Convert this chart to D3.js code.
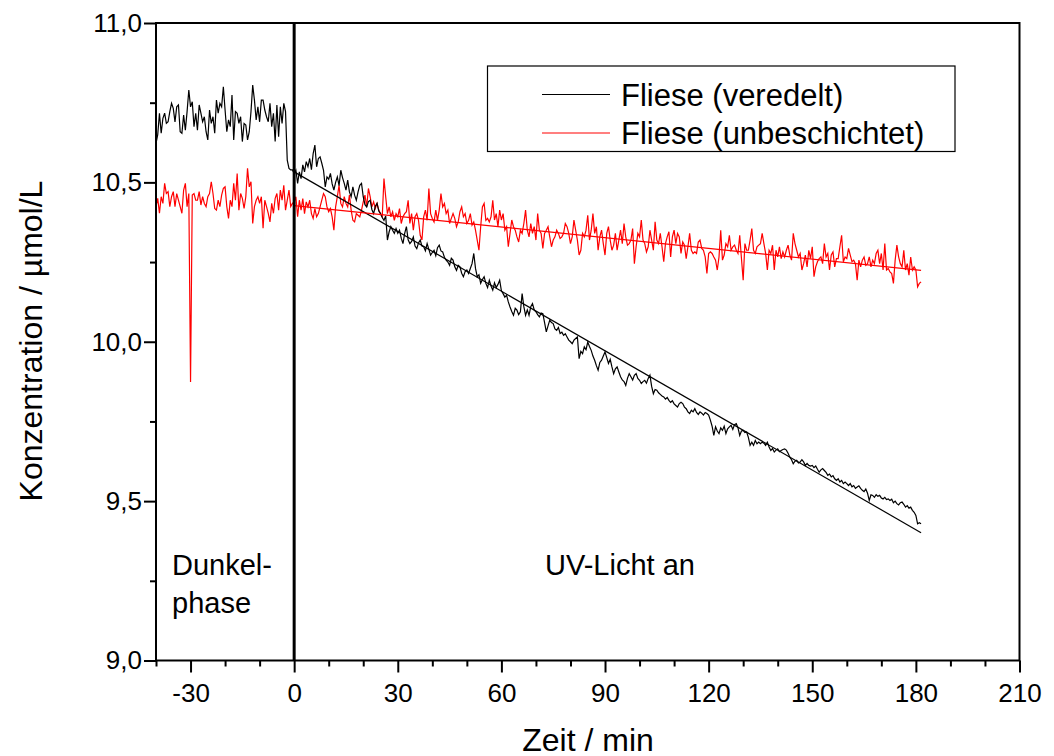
<!DOCTYPE html>
<html>
<head>
<meta charset="utf-8">
<script src="https://cdn.jsdelivr.net/npm/d3@7"></script>
<style>
  body { margin: 0; background: #fff; }
  svg text { font-family: "Liberation Sans", Arial, sans-serif; fill: #000; }
</style>
</head>
<body>
<svg id="chart" width="1054" height="756"></svg>
<script>
//sampling of the measurement (minutes)
var startTime = -40;
var sampleStep = 0.5;

//Fliese (veredelt) - dark phase, -40 ... -0.5 min
var blackDark = [
  10.622, 10.650, 10.717, 10.654, 10.701, 10.717, 10.685, 10.690, 10.722, 10.748,
  10.732, 10.690, 10.737, 10.743, 10.659, 10.654, 10.711, 10.664, 10.722, 10.790,
  10.737, 10.753, 10.675, 10.717, 10.664, 10.743, 10.717, 10.690, 10.706, 10.659,
  10.633, 10.727, 10.685, 10.706, 10.654, 10.758, 10.717, 10.748, 10.737, 10.800,
  10.727, 10.659, 10.696, 10.675, 10.774, 10.633, 10.722, 10.717, 10.685, 10.706,
  10.628, 10.685, 10.680, 10.633, 10.659, 10.722, 10.805, 10.758, 10.696, 10.737,
  10.690, 10.758, 10.758, 10.727, 10.706, 10.690, 10.748, 10.675, 10.717, 10.628,
  10.743, 10.643, 10.737, 10.685, 10.748, 10.722, 10.570, 10.544, 10.539, 10.539
];

//Fliese (veredelt) - UV light, 0 ... 181.5 min
var blackUV = [
  10.528, 10.538, 10.497, 10.533, 10.512, 10.555, 10.533, 10.565, 10.549, 10.575, 10.540, 10.590, 10.617, 10.549, 10.575, 10.580, 10.560, 10.538, 10.486, 10.517,
  10.510, 10.528, 10.495, 10.476, 10.500, 10.517, 10.490, 10.538, 10.515, 10.497, 10.476, 10.507, 10.470, 10.455, 10.486, 10.460, 10.444, 10.470, 10.491, 10.497,
  10.455, 10.430, 10.423, 10.440, 10.444, 10.415, 10.402, 10.425, 10.434, 10.410, 10.402, 10.390, 10.381, 10.395, 10.319, 10.345, 10.361, 10.350, 10.340, 10.355,
  10.340, 10.350, 10.325, 10.308, 10.340, 10.361, 10.320, 10.308, 10.315, 10.329, 10.300, 10.292, 10.310, 10.319, 10.300, 10.298, 10.285, 10.308, 10.290, 10.272,
  10.280, 10.287, 10.270, 10.295, 10.303, 10.285, 10.282, 10.265, 10.256, 10.250, 10.240, 10.262, 10.256, 10.235, 10.224, 10.240, 10.235, 10.215, 10.204, 10.220,
  10.225, 10.214, 10.230, 10.245, 10.277, 10.230, 10.204, 10.210, 10.183, 10.195, 10.204, 10.183, 10.170, 10.193, 10.175, 10.162, 10.185, 10.170, 10.180, 10.193,
  10.160, 10.151, 10.140, 10.146, 10.125, 10.109, 10.095, 10.083, 10.105, 10.099, 10.085, 10.094, 10.151, 10.110, 10.083, 10.100, 10.083, 10.110, 10.120, 10.100,
  10.094, 10.085, 10.078, 10.090, 10.088, 10.060, 10.031, 10.050, 10.068, 10.060, 10.057, 10.040, 10.036, 10.045, 10.026, 10.030, 10.020, 10.025, 10.015, 10.005,
  10.000, 9.994, 10.005, 10.010, 10.015, 9.947, 9.970, 9.963, 9.984, 9.975, 9.999, 9.985, 9.973, 9.955, 9.942, 9.925, 9.911, 9.935, 9.942, 9.955,
  9.968, 9.950, 9.932, 9.945, 9.921, 9.900, 9.915, 9.921, 9.905, 9.890, 9.880, 9.875, 9.863, 9.885, 9.900, 9.890, 9.880, 9.895, 9.900, 9.885,
  9.879, 9.869, 9.875, 9.879, 9.870, 9.885, 9.895, 9.860, 9.837, 9.850, 9.848, 9.840, 9.835, 9.830, 9.827, 9.820, 9.825, 9.816, 9.810, 9.815,
  9.805, 9.800, 9.795, 9.806, 9.810, 9.806, 9.795, 9.790, 9.780, 9.775, 9.785, 9.780, 9.790, 9.778, 9.772, 9.780, 9.776, 9.770, 9.778, 9.775,
  9.770, 9.754, 9.735, 9.706, 9.733, 9.720, 9.712, 9.730, 9.722, 9.735, 9.712, 9.727, 9.733, 9.738, 9.725, 9.740, 9.743, 9.730, 9.706, 9.720,
  9.722, 9.715, 9.717, 9.700, 9.675, 9.685, 9.675, 9.690, 9.680, 9.685, 9.680, 9.685, 9.682, 9.675, 9.685, 9.670, 9.659, 9.665, 9.654, 9.660,
  9.664, 9.655, 9.659, 9.662, 9.664, 9.660, 9.650, 9.638, 9.630, 9.617, 9.625, 9.628, 9.620, 9.623, 9.630, 9.623, 9.612, 9.618, 9.612, 9.610,
  9.612, 9.605, 9.610, 9.600, 9.591, 9.598, 9.602, 9.596, 9.590, 9.581, 9.585, 9.576, 9.580, 9.570, 9.565, 9.570, 9.560, 9.565, 9.555, 9.560,
  9.555, 9.549, 9.555, 9.545, 9.549, 9.540, 9.544, 9.548, 9.540, 9.534, 9.530, 9.538, 9.525, 9.502, 9.520, 9.518, 9.512, 9.520, 9.515, 9.518,
  9.510, 9.507, 9.512, 9.505, 9.507, 9.502, 9.506, 9.495, 9.500, 9.492, 9.488, 9.495, 9.497, 9.490, 9.481, 9.486, 9.478, 9.481, 9.471, 9.465,
  9.455, 9.429, 9.432, 9.429
];

//Fliese (unbeschichtet) - dark phase, -40 ... -0.5 min (one outlier at -30 min)
var redDark = [
  10.424, 10.450, 10.403, 10.455, 10.434, 10.497, 10.465, 10.471, 10.424, 10.455,
  10.471, 10.424, 10.465, 10.444, 10.424, 10.403, 10.476, 10.497, 10.424, 10.465,
  9.874,
  10.460, 10.465, 10.444, 10.444, 10.471, 10.429, 10.455, 10.434, 10.424, 10.455,
  10.465, 10.502, 10.465, 10.418, 10.413, 10.444, 10.424, 10.460, 10.481, 10.486,
  10.424, 10.387, 10.444, 10.424, 10.497, 10.444, 10.528, 10.413, 10.465, 10.450,
  10.418, 10.455, 10.544, 10.486, 10.502, 10.371, 10.424, 10.444, 10.455, 10.434,
  10.455, 10.356, 10.444, 10.424, 10.403, 10.376, 10.434, 10.403, 10.450, 10.465,
  10.413, 10.476, 10.444, 10.491, 10.413, 10.444, 10.476, 10.424, 10.434
];

//Fliese (unbeschichtet) - UV light, 0 ... 181.5 min
var redUV = [
  10.439, 10.455, 10.392, 10.444, 10.413, 10.449, 10.402, 10.439, 10.423, 10.444,
  10.402, 10.387, 10.418, 10.392, 10.402, 10.423, 10.444, 10.465, 10.455, 10.423,
  10.408, 10.418, 10.392, 10.350, 10.423, 10.455, 10.491, 10.434, 10.423, 10.455,
  10.434, 10.423, 10.460, 10.413, 10.381, 10.376, 10.402, 10.397, 10.392, 10.413,
  10.439, 10.460, 10.423, 10.481, 10.455, 10.423, 10.439, 10.418, 10.434, 10.413,
  10.402, 10.392, 10.512, 10.455, 10.402, 10.423, 10.392, 10.408, 10.381, 10.402,
  10.392, 10.418, 10.371, 10.392, 10.402, 10.408, 10.444, 10.371, 10.402, 10.350,
  10.392, 10.402, 10.381, 10.334, 10.319, 10.392, 10.413, 10.381, 10.481, 10.402,
  10.387, 10.376, 10.413, 10.381, 10.413, 10.465, 10.423, 10.434, 10.402, 10.413,
  10.371, 10.387, 10.402, 10.387, 10.361, 10.376, 10.408, 10.423, 10.392, 10.402,
  10.371, 10.381, 10.402, 10.366, 10.376, 10.350, 10.319, 10.287, 10.361, 10.423,
  10.434, 10.381, 10.387, 10.376, 10.392,
  10.444, 10.382, 10.402, 10.361, 10.413, 10.382, 10.402, 10.350, 10.361, 10.298,
  10.340, 10.382, 10.361, 10.350, 10.329, 10.313, 10.350, 10.340, 10.371, 10.413,
  10.350, 10.329, 10.371, 10.340, 10.361, 10.319, 10.402, 10.350, 10.340, 10.293,
  10.340, 10.350, 10.361, 10.329, 10.298, 10.319, 10.329, 10.350, 10.340, 10.324,
  10.329, 10.340, 10.371, 10.361, 10.340, 10.308, 10.329, 10.382, 10.350, 10.319,
  10.272, 10.287, 10.340, 10.329, 10.350, 10.397, 10.319, 10.350, 10.402, 10.340,
  10.361, 10.287, 10.329, 10.350, 10.308, 10.272, 10.340, 10.361, 10.319, 10.287,
  10.303, 10.340, 10.287, 10.319, 10.350, 10.308, 10.371, 10.329, 10.303, 10.308,
  10.319, 10.355, 10.245, 10.298, 10.340, 10.329, 10.382, 10.319, 10.308, 10.282,
  10.298, 10.350, 10.319, 10.287, 10.376, 10.319, 10.308, 10.340, 10.298, 10.251,
  10.308, 10.329, 10.345, 10.266, 10.329, 10.350, 10.308, 10.340, 10.329,
  10.277, 10.313, 10.303, 10.261, 10.298, 10.340, 10.287, 10.277, 10.282, 10.277,
  10.313, 10.319, 10.293, 10.287, 10.266, 10.214, 10.277, 10.282, 10.277, 10.266,
  10.256, 10.225, 10.266, 10.350, 10.256, 10.272, 10.308, 10.298, 10.334, 10.287,
  10.298, 10.303, 10.287, 10.277, 10.334, 10.261, 10.193, 10.308, 10.287, 10.287,
  10.319, 10.355, 10.287, 10.277, 10.298, 10.303, 10.308, 10.340, 10.308, 10.277,
  10.225, 10.287, 10.277, 10.303, 10.225, 10.287, 10.266, 10.298, 10.261, 10.282,
  10.266, 10.287, 10.303, 10.272, 10.256, 10.340, 10.308, 10.287, 10.266, 10.277,
  10.225, 10.245, 10.272, 10.235, 10.287, 10.261, 10.298, 10.204, 10.235, 10.251,
  10.261, 10.266, 10.245, 10.308, 10.266, 10.277, 10.225, 10.272, 10.282, 10.235,
  10.261, 10.261, 10.298, 10.334, 10.251, 10.266, 10.261, 10.293, 10.272, 10.251,
  10.256, 10.245, 10.193, 10.256, 10.235, 10.256, 10.266, 10.240, 10.245, 10.266,
  10.235, 10.256, 10.245, 10.277, 10.287,
  10.245, 10.277, 10.225, 10.308, 10.225, 10.230, 10.219, 10.214, 10.183, 10.256,
  10.303, 10.266, 10.245, 10.235, 10.287, 10.225, 10.245, 10.209, 10.266, 10.225,
  10.235, 10.225, 10.172, 10.183, 10.188
];

//linear fits during UV phase
var fitTimes = [0, 181.5];
var blackFit = [10.533, 9.401];
var redFit = [10.427, 10.224];

//axes
var xMajorTicks = [-30, 0, 30, 60, 90, 120, 150, 180, 210];
var xMinorTicks = [-40, -20, -10, 10, 20, 40, 50, 70, 80, 100, 110, 130, 140, 160, 170, 190, 200];
var yMajorTicks = [9.0, 9.5, 10.0, 10.5, 11.0];
var yMinorTicks = [9.25, 9.75, 10.25, 10.75];

var seriesNames = ["Fliese (veredelt)", "Fliese (unbeschichtet)"];
var seriesColors = ["#000000", "#ff0000"];

/*----------------------
SCALES
----------------------*/
var svg = d3.select("#chart");
var plotLeft = 156, plotRight = 1019.5, plotTop = 23, plotBottom = 660.5;

var x = d3.scaleLinear().domain([-40, 210]).range([plotLeft, plotRight]);
var y = d3.scaleLinear().domain([9, 11]).range([plotBottom, plotTop]);

function toPoints(values, t0) {
  return values.map(function(v, i) { return [t0 + i * sampleStep, v]; });
}

var blackData = toPoints(blackDark.concat(blackUV), startTime);
var redData = toPoints(redDark.concat(redUV), startTime);

var line = d3.line()
  .x(function(d) { return x(d[0]); })
  .y(function(d) { return y(d[1]); });

svg.append("clipPath").attr("id", "plotclip")
  .append("rect")
    .attr("x", plotLeft).attr("y", plotTop)
    .attr("width", plotRight - plotLeft).attr("height", plotBottom - plotTop);

var plot = svg.append("g").attr("clip-path", "url(#plotclip)");

// measured curves
plot.append("path")
  .datum(redData)
  .attr("d", line)
  .attr("fill", "none")
  .attr("stroke", seriesColors[1])
  .attr("stroke-width", 1.2);

plot.append("path")
  .datum(blackData)
  .attr("d", line)
  .attr("fill", "none")
  .attr("stroke", seriesColors[0])
  .attr("stroke-width", 1.2);

// fit lines
[blackFit, redFit].forEach(function(fit, k) {
  plot.append("path")
    .datum(fitTimes.map(function(t, i) { return [t, fit[i]]; }))
    .attr("d", line)
    .attr("fill", "none")
    .attr("stroke", seriesColors[k])
    .attr("stroke-width", 1.2);
});

// start of UV irradiation
svg.append("line")
  .attr("x1", x(0)).attr("x2", x(0))
  .attr("y1", y(11)).attr("y2", y(9))
  .attr("stroke", "#000")
  .attr("stroke-width", 3);

/*----------------------
AXES
----------------------*/
var fmtY = function(d) { return d.toFixed(1).replace(".", ","); };

svg.append("g")
  .attr("transform", "translate(0," + plotBottom + ")")
  .call(d3.axisBottom(x).tickValues(xMajorTicks).tickSize(12).tickSizeOuter(0)
    .tickPadding(11).tickFormat(function(d) { return String(d); }));
svg.append("g")
  .attr("transform", "translate(0," + plotBottom + ")")
  .call(d3.axisBottom(x).tickValues(xMinorTicks).tickSize(6).tickSizeOuter(0).tickFormat(""));

svg.append("g")
  .attr("transform", "translate(" + plotLeft + ",0)")
  .call(d3.axisLeft(y).tickValues(yMajorTicks).tickSize(12).tickSizeOuter(0)
    .tickPadding(2).tickFormat(fmtY));
svg.append("g")
  .attr("transform", "translate(" + plotLeft + ",0)")
  .call(d3.axisLeft(y).tickValues(yMinorTicks).tickSize(6).tickSizeOuter(0).tickFormat(""));

svg.selectAll(".domain").remove();
svg.selectAll(".tick line").attr("stroke", "#000").attr("stroke-width", 2);
svg.selectAll(".tick text")
  .attr("font-family", "Liberation Sans, Arial, sans-serif")
  .attr("font-size", 26)
  .attr("fill", "#000");

// frame
svg.append("rect")
  .attr("x", plotLeft).attr("y", plotTop)
  .attr("width", plotRight - plotLeft).attr("height", plotBottom - plotTop)
  .attr("fill", "none")
  .attr("stroke", "#000")
  .attr("stroke-width", 2);

// axis titles
svg.append("text")
  .attr("x", 588).attr("y", 751)
  .attr("text-anchor", "middle")
  .attr("font-size", 32)
  .text("Zeit / min");

svg.append("text")
  .attr("transform", "translate(42,341) rotate(-90)")
  .attr("text-anchor", "middle")
  .attr("font-size", 32)
  .text("Konzentration / µmol/L");

// phase annotations
svg.append("text").attr("x", 172).attr("y", 575).attr("font-size", 29).text("Dunkel-");
svg.append("text").attr("x", 172).attr("y", 613).attr("font-size", 29).text("phase");
svg.append("text").attr("x", 545).attr("y", 575).attr("font-size", 29).text("UV-Licht an");

/*----------------------
LEGEND
----------------------*/
var legend = svg.append("g");
legend.append("rect")
  .attr("x", 487.5).attr("y", 66)
  .attr("width", 467.5).attr("height", 85.5)
  .attr("fill", "#fff")
  .attr("stroke", "#000")
  .attr("stroke-width", 1.2);

seriesNames.forEach(function(name, i) {
  var ly = 94.5 + i * 38.5;
  legend.append("line")
    .attr("x1", 542).attr("x2", 610)
    .attr("y1", ly).attr("y2", ly)
    .attr("stroke", seriesColors[i])
    .attr("stroke-width", 1.2);
  legend.append("text")
    .attr("x", 621).attr("y", ly + 11)
    .attr("font-size", 31)
    .text(name);
});
</script>
</body>
</html>
